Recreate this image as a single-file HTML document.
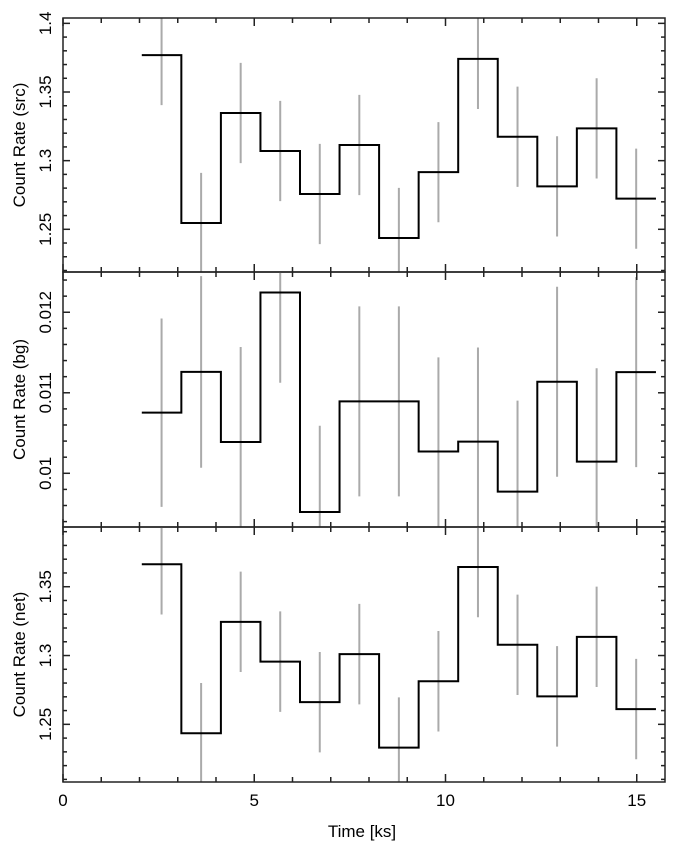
<!DOCTYPE html>
<html><head><meta charset="utf-8"><style>
body{margin:0;background:#fff}
svg text{font-family:"Liberation Sans",sans-serif;fill:#000}
</style></head><body>
<svg id="chart" width="676" height="853" xmlns="http://www.w3.org/2000/svg"></svg>
<script>
const binStart = 2.06;
const binWidth = 1.034;
const srcRates = [1.3769,1.2546,1.3347,1.307,1.2757,1.3114,1.2437,1.2916,1.3741,1.3174,1.2813,1.3235,1.2723];
const srcErrors = [0.0365,0.0365,0.0365,0.0365,0.0365,0.0365,0.0365,0.0365,0.0365,0.0365,0.0365,0.0365,0.0365];
const bgRates = [0.010753,0.011259,0.010388,0.012245,0.00952,0.010893,0.010893,0.01027,0.010393,0.009773,0.011137,0.010145,0.011257];
const bgErrors = [0.00117,0.00119,0.00118,0.00112,0.00107,0.00118,0.00118,0.00117,0.00117,0.00113,0.00118,0.00116,0.00118];
const netRates = [1.3663,1.2435,1.3245,1.2956,1.2661,1.301,1.2331,1.2813,1.3643,1.3078,1.2703,1.3136,1.2611];
const netErrors = [0.0365,0.0365,0.0365,0.0365,0.0365,0.0365,0.0365,0.0365,0.0365,0.0365,0.0365,0.0365,0.0365];
const xMajorTicks = [0,5,10,15];
const srcTicks = [1.25,1.3,1.35,1.4];
const srcTickLabels = ["1.25","1.3","1.35","1.4"];
const bgTicks = [0.01,0.011,0.012];
const bgTickLabels = ["0.01","0.011","0.012"];
const netTicks = [1.25,1.3,1.35];
const netTickLabels = ["1.25","1.3","1.35"];

const NS="http://www.w3.org/2000/svg";
const svg=document.getElementById('chart');
const L=63,R=665;
const xMin=0,xMax=(R-L)/38.25;
function x(v){return L+(v-xMin)/(xMax-xMin)*(R-L);}
function mk(tag,attrs,parent){const e=document.createElementNS(NS,tag);for(const k in attrs)e.setAttribute(k,attrs[k]);(parent||svg).appendChild(e);return e;}

const panels=[
 {name:'src',top:18,bot:272,d0:1.2189,d1:1.4039,rates:srcRates,errs:srcErrors,ticks:srcTicks,labels:srcTickLabels,minor:0.01,title:'Count Rate (src)'},
 {name:'bg',top:272,bot:527,d0:0.009333,d1:0.0125,rates:bgRates,errs:bgErrors,ticks:bgTicks,labels:bgTickLabels,minor:0.0002,title:'Count Rate (bg)'},
 {name:'net',top:527,bot:782,d0:1.2081,d1:1.3934,rates:netRates,errs:netErrors,ticks:netTicks,labels:netTickLabels,minor:0.01,title:'Count Rate (net)'}
];

panels.forEach(p=>{
  const y=v=>p.bot-(v-p.d0)/(p.d1-p.d0)*(p.bot-p.top);
  const g=mk('g',{});
  
  
  const clipId='clip-'+p.name;
  const cp=mk('clipPath',{id:clipId},g);
  mk('rect',{x:L,y:p.top,width:R-L,height:p.bot-p.top},cp);
  const plot=mk('g',{'clip-path':'url(#'+clipId+')'},g);
  p.rates.forEach((r,i)=>{
    const cx=x(binStart+(i+0.5)*binWidth);
    const eb=mk('line',{x1:cx,x2:cx,y1:y(r-p.errs[i]),y2:y(r+p.errs[i]),stroke:'#aaa','stroke-width':2},plot);
    
    
  });
  let d='';
  p.rates.forEach((r,i)=>{
    const x0=x(binStart+i*binWidth),x1=x(binStart+(i+1)*binWidth);
    d+=(i===0?'M':'L')+x0+','+y(r)+'L'+x1+','+y(r);
  });
  const st=mk('path',{d:d,fill:'none',stroke:'#000','stroke-width':2},plot);
  
  
  const fr=mk('rect',{x:L,y:p.top,width:R-L,height:p.bot-p.top,fill:'none',stroke:'#222','stroke-width':1.5},g);
  
  
  for(let t=0;t<=Math.floor(xMax);t++){
    const len=xMajorTicks.includes(t)?8:5;const tx=x(t);
    mk('line',{x1:tx,x2:tx,y1:p.bot,y2:p.bot-len,stroke:'#222','stroke-width':1.5},g);
    mk('line',{x1:tx,x2:tx,y1:p.top,y2:p.top+len,stroke:'#222','stroke-width':1.5},g);
  }
  const start=Math.ceil(p.d0/p.minor-1e-6);
  for(let k=start;k*p.minor<=p.d1+1e-9;k++){
    const v=k*p.minor;const ty=y(v);
    const isMaj=p.ticks.some(t=>Math.abs(t-v)<p.minor/10);
    const len=isMaj?7:4;
    mk('line',{x1:L,x2:L+len,y1:ty,y2:ty,stroke:'#222','stroke-width':1.5},g);
    mk('line',{x1:R,x2:R-len,y1:ty,y2:ty,stroke:'#222','stroke-width':1.5},g);
  }
  p.ticks.forEach((t,i)=>{
    const ty=y(t);
    const tl=mk('text',{x:0,y:0,'font-size':17,'text-anchor':'middle',transform:'translate(51,'+ty+') rotate(-90)'},g);
    tl.textContent=p.labels[i];
    
    
  });
  const yt=mk('text',{x:0,y:0,'font-size':17,'text-anchor':'middle',transform:'translate(25,'+((p.top+p.bot)/2)+') rotate(-90)'},g);
  yt.textContent=p.title;
  
  
});
xMajorTicks.forEach(t=>{
  const tl=mk('text',{x:x(t),y:806,'font-size':17,'text-anchor':'middle'});
  tl.textContent=String(t);
  
  
});
const xt=mk('text',{x:362,y:837,'font-size':17,'text-anchor':'middle'});
xt.textContent='Time [ks]';


</script>
</body></html>
